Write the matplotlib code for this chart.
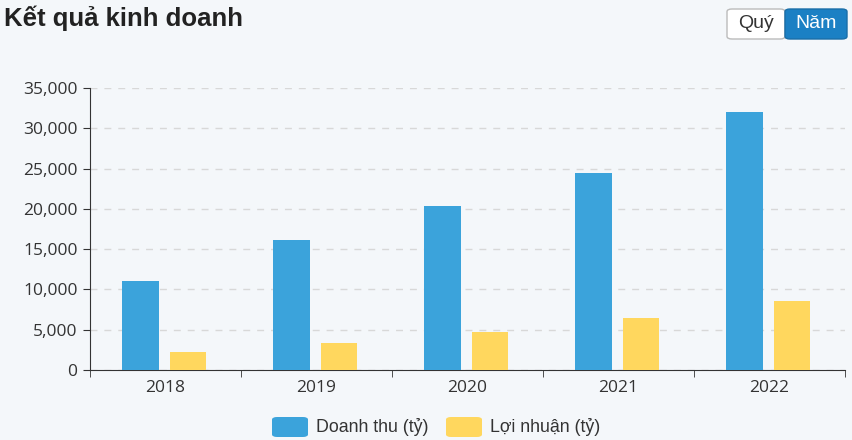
import matplotlib
matplotlib.use("Agg")
import matplotlib.pyplot as plt
from matplotlib.patches import FancyBboxPatch
from matplotlib.ticker import FuncFormatter, MultipleLocator
import numpy as np

years = ["2018", "2019", "2020", "2021", "2022"]
revenue = [11050, 16150, 20350, 24450, 32000]
profit = [2250, 3350, 4700, 6450, 8550]
series_names = ["Doanh thu (tỷ)", "Lợi nhuận (tỷ)"]
title = "Kết quả kinh doanh"
buttons = ["Quý", "Năm"]

BG = "#f4f7fa"
BLUE = "#3ba3db"
YELLOW = "#ffd75e"
AX = "#333333"

fig = plt.figure(figsize=(8.53, 4.40), dpi=100, facecolor=BG)
ax = fig.add_axes([90/853, 70/440, 755/853, 282/440])
ax.set_facecolor(BG)

x = np.arange(len(years))
w = 0.245
off = 0.157
ax.bar(x - off - 0.008, revenue, w, color=BLUE, zorder=3)
ax.bar(x + off - 0.008, profit, w, color=YELLOW, zorder=3)

ax.set_xlim(-0.5, len(years) - 0.5)
ax.set_ylim(0, 35000)
ax.yaxis.set_major_locator(MultipleLocator(5000))
ax.yaxis.set_major_formatter(FuncFormatter(lambda v, p: f"{int(v):,}"))
ax.grid(axis="y", color="#d8d8d8", linestyle=(0, (5, 5)), linewidth=1, zorder=0)

for s in ["top", "right"]:
    ax.spines[s].set_visible(False)
ax.spines["left"].set_color(AX)
ax.spines["bottom"].set_color(AX)

ax.set_xticks(x)
ax.set_xticklabels(years)
ax.set_xticks(np.arange(-0.5, len(years)), minor=True)
ax.tick_params(axis="x", which="major", length=0, pad=7, labelsize=12.5, labelcolor="#333333")
ax.tick_params(axis="x", which="minor", length=5, color=AX, direction="out")
ax.tick_params(axis="y", length=5, color=AX, pad=4, labelsize=12.5, labelcolor="#333333")
for lab in ax.get_xticklabels() + ax.get_yticklabels():
    lab.set_fontfamily("Open Sans")

fig.text(4/853, 1 - 18/440, title, fontsize=18.5, fontweight="bold", family="Liberation Sans",
         color="#222222", va="center", ha="left")

# Buttons
bx0, by0, bh = 727/853, 1 - 39/440, 30/440
b1w = 58/853
b2w = 62/853
fig.patches.append(FancyBboxPatch((bx0, by0), b1w, bh, boxstyle="round,pad=0,rounding_size=0.006",
                                  transform=fig.transFigure, facecolor="white", edgecolor="#bbbbbb", lw=1))
fig.patches.append(FancyBboxPatch((bx0 + b1w, by0), b2w, bh, boxstyle="round,pad=0,rounding_size=0.006",
                                  transform=fig.transFigure, facecolor="#1b80c4", edgecolor="#1a6ea8", lw=1))
fig.text(bx0 + b1w/2, by0 + bh/2, buttons[0], fontsize=14, family="Liberation Sans", color="#333333",
         ha="center", va="center")
fig.text(bx0 + b1w + b2w/2, by0 + bh/2, buttons[1], fontsize=14, family="Liberation Sans", color="white",
         ha="center", va="center")

# Legend
ly = 1 - 427/440
pw, ph = 36/853, 20/440
items = [(272/853, BLUE, series_names[0], 316/853), (446/853, YELLOW, series_names[1], 490/853)]
for px, col, name, tx in items:
    fig.patches.append(FancyBboxPatch((px, ly - ph/2), pw, ph, boxstyle="round,pad=0,rounding_size=0.006",
                                      transform=fig.transFigure, facecolor=col, edgecolor="none"))
    fig.text(tx, ly, name, fontsize=12.8, family="Liberation Sans", color="#333333", ha="left", va="center")

fig.savefig("out.png", dpi=100, facecolor=BG)
